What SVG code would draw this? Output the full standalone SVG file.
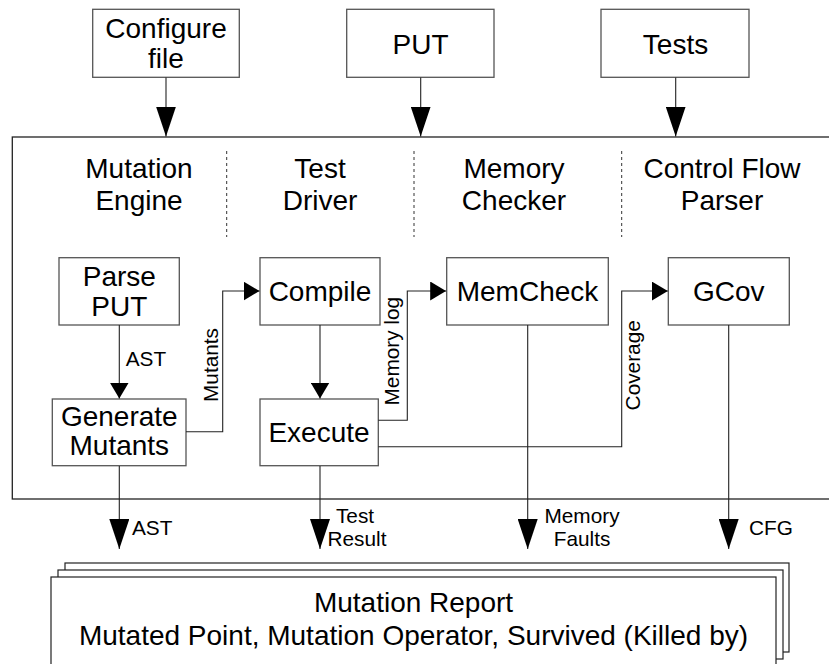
<svg xmlns="http://www.w3.org/2000/svg" width="829" height="664" viewBox="0 0 829 664">
<defs>
<style>
.box{fill:#fff;stroke:#555;stroke-width:1.3}
.t{font-family:"Liberation Sans",Arial,sans-serif;font-size:28px;fill:#000;text-anchor:middle}
.l{font-family:"Liberation Sans",Arial,sans-serif;font-size:20.8px;fill:#000}
.c{fill:none;stroke:#222;stroke-width:1.1}
.d{fill:none;stroke:#333;stroke-width:1;stroke-dasharray:3 3}
</style>
<marker id="big" markerUnits="userSpaceOnUse" markerWidth="30" markerHeight="20" refX="30" refY="10" orient="auto"><path d="M0,0 L30,10 L0,20 z" fill="#000"/></marker>
<marker id="sm" markerUnits="userSpaceOnUse" markerWidth="16" markerHeight="19" refX="16" refY="9.5" orient="auto"><path d="M0,0 L16,9.5 L0,19 z" fill="#000"/></marker>
</defs>
<rect x="0" y="0" width="829" height="664" fill="#fff"/>

<g id="container">
<rect x="12.3" y="137" width="830" height="362" fill="none" stroke="#222" stroke-width="1.3"/>
<line class="d" x1="226.7" y1="151" x2="226.7" y2="237"/>
<line class="d" x1="414" y1="151" x2="414" y2="237"/>
<line class="d" x1="621.7" y1="151" x2="621.7" y2="237"/>
<text class="t" x="139" y="178">Mutation</text><text class="t" x="139" y="210">Engine</text>
<text class="t" x="320" y="178">Test</text><text class="t" x="320" y="210">Driver</text>
<text class="t" x="514" y="178">Memory</text><text class="t" x="514" y="210">Checker</text>
<text class="t" x="722" y="178">Control Flow</text><text class="t" x="722" y="210">Parser</text>
</g>

<g id="configure"><rect class="box" x="92.7" y="9.3" width="146.6" height="68"/><text class="t" x="166" y="38.3">Configure</text><text class="t" x="166" y="68.3">file</text></g>
<g id="put"><rect class="box" x="346.7" y="9.3" width="147.3" height="68"/><text class="t" x="420.5" y="54.3">PUT</text></g>
<g id="tests"><rect class="box" x="601" y="9.3" width="148" height="68"/><text class="t" x="675.5" y="54.3">Tests</text></g>

<g id="parse"><rect class="box" x="59" y="257.7" width="120.3" height="67.3"/><text class="t" x="119.3" y="286">Parse</text><text class="t" x="119.3" y="316">PUT</text></g>
<g id="generate"><rect class="box" x="52.3" y="399" width="133.7" height="66.7"/><text class="t" x="119.3" y="425.7">Generate</text><text class="t" x="119.3" y="455">Mutants</text></g>
<g id="compile"><rect class="box" x="260" y="257.7" width="120" height="67.3"/><text class="t" x="320" y="301">Compile</text></g>
<g id="execute"><rect class="box" x="260" y="399" width="118.3" height="66.7"/><text class="t" x="319" y="441.7">Execute</text></g>
<g id="memcheck"><rect class="box" x="446.7" y="257.7" width="161.6" height="67.3"/><text class="t" x="527.5" y="301">MemCheck</text></g>
<g id="gcov"><rect class="box" x="668.3" y="257.7" width="121" height="67.3"/><text class="t" x="728.8" y="301">GCov</text></g>

<g id="report">
<rect x="65" y="563" width="724" height="89" fill="#fff" stroke="#222" stroke-width="1.2"/>
<rect x="58" y="570" width="725" height="89" fill="#fff" stroke="#222" stroke-width="1.2"/>
<rect x="51" y="577" width="725" height="100" fill="#fff" stroke="#222" stroke-width="1.2"/>
<text class="t" x="413.5" y="612">Mutation Report</text>
<text class="t" x="413.5" y="645">Mutated Point, Mutation Operator, Survived (Killed by)</text>
</g>

<g id="connectors">
<path class="c" d="M166,77.5 V136.5" marker-end="url(#big)"/>
<path class="c" d="M420.7,77.5 V136.5" marker-end="url(#big)"/>
<path class="c" d="M675.7,77.5 V136.5" marker-end="url(#big)"/>
<path class="c" d="M119.3,325 V398.5" marker-end="url(#sm)"/>
<path class="c" d="M186,431.7 H222.7 V291 H259.5" marker-end="url(#sm)"/>
<path class="c" d="M320,325 V398.5" marker-end="url(#sm)"/>
<path class="c" d="M378.3,420.3 H407.3 V291 H446.2" marker-end="url(#sm)"/>
<path class="c" d="M378.3,446.7 H621.7 V291 H667.8" marker-end="url(#sm)"/>
<path class="c" d="M119.3,466 V549" marker-end="url(#big)"/>
<path class="c" d="M320,466 V549" marker-end="url(#big)"/>
<path class="c" d="M527.7,325 V549" marker-end="url(#big)"/>
<path class="c" d="M728.7,325 V549" marker-end="url(#big)"/>
<text class="l" x="125.7" y="366">AST</text>
<text class="l" text-anchor="middle" transform="translate(218,365) rotate(-90)">Mutants</text>
<text class="l" text-anchor="middle" transform="translate(399.3,351.2) rotate(-90)">Memory log</text>
<text class="l" text-anchor="middle" transform="translate(640,365.3) rotate(-90)">Coverage</text>
<text class="l" x="132" y="535">AST</text>
<text class="l" text-anchor="middle" x="355" y="523">Test</text>
<text class="l" text-anchor="middle" x="357" y="546">Result</text>
<text class="l" text-anchor="middle" x="582" y="523">Memory</text>
<text class="l" text-anchor="middle" x="582" y="546">Faults</text>
<text class="l" x="749" y="535">CFG</text>
</g>
</svg>
